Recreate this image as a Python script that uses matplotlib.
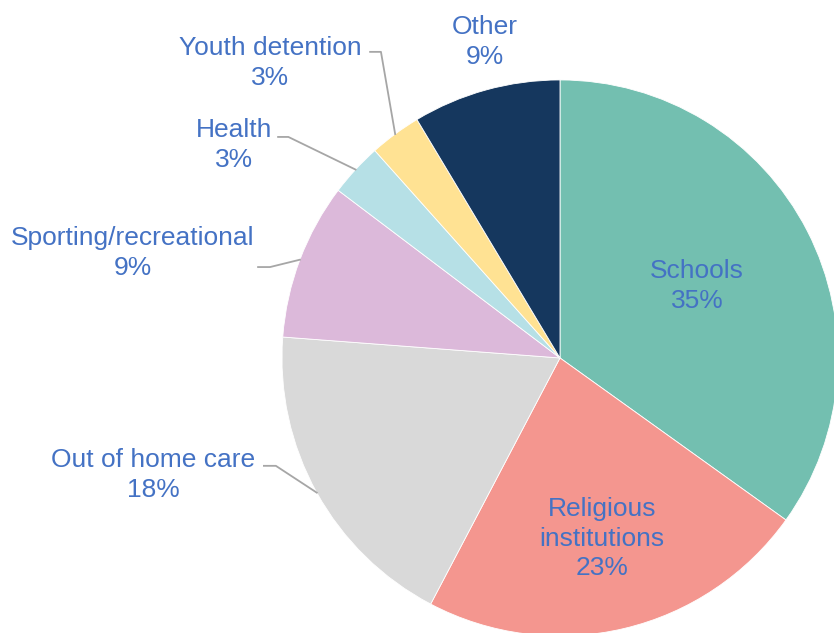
import numpy as np
import matplotlib.pyplot as plt

labels = ["Schools", "Religious\ninstitutions", "Out of home care", "Sporting/recreational",
          "Health", "Youth detention", "Other"]
shares = [34.9, 22.8, 18.5, 9.1, 3.1, 3.0, 8.6]
pct_labels = ["35%", "23%", "18%", "9%", "3%", "3%", "9%"]
colors = ["#73BFB0", "#F4968F", "#D9D9D9", "#DCB9DA", "#B6E0E6", "#FFE293", "#15375E"]

# label centre (data units, radius = 1) and elbow of leader line (None = no leader)
label_pos = [(0.493, 0.259), (0.151, -0.651), (-1.464, -0.421), (-1.536, 0.378),
             (-1.174, 0.766), (-1.043, 1.061), (-0.27, 1.137)]
elbow = [None, None, (-1.022, -0.388), (-1.043, 0.327), (-0.977, 0.795), (-0.644, 1.101), None]
elbow_start = [None, None, (-1.065, -0.388), (-1.086, 0.327), (-1.014, 0.795), (-0.683, 1.101), None]

plt.rcParams['font.family'] = ['Liberation Sans', 'DejaVu Sans']

fig = plt.figure(figsize=(8.34, 6.33), dpi=100)
ax = fig.add_axes([0.3381, -0.0047, 0.6667, 0.8784])
wedges, _ = ax.pie(shares, colors=colors, startangle=90, counterclock=False, radius=1,
                   wedgeprops=dict(edgecolor="white", linewidth=0.6))
ax.set_xlim(-1, 1)
ax.set_ylim(-1, 1)
ax.set_aspect("equal")
ax.axis("off")

for i, w in enumerate(wedges):
    x, y = label_pos[i]
    ax.text(x, y, labels[i] + "\n" + pct_labels[i], ha="center", va="center", fontsize=19,
            color="#4472C4", linespacing=1.29, clip_on=False)
    if elbow[i] is not None:
        mid = np.deg2rad((w.theta1 + w.theta2) / 2)
        ex, ey = np.cos(mid), np.sin(mid)
        sx, sy = elbow_start[i]
        bx, by = elbow[i]
        ax.plot([sx, bx, ex], [sy, by, ey], color="#A6A6A6", lw=1.3, clip_on=False)

fig.savefig("out.png", dpi=100)
